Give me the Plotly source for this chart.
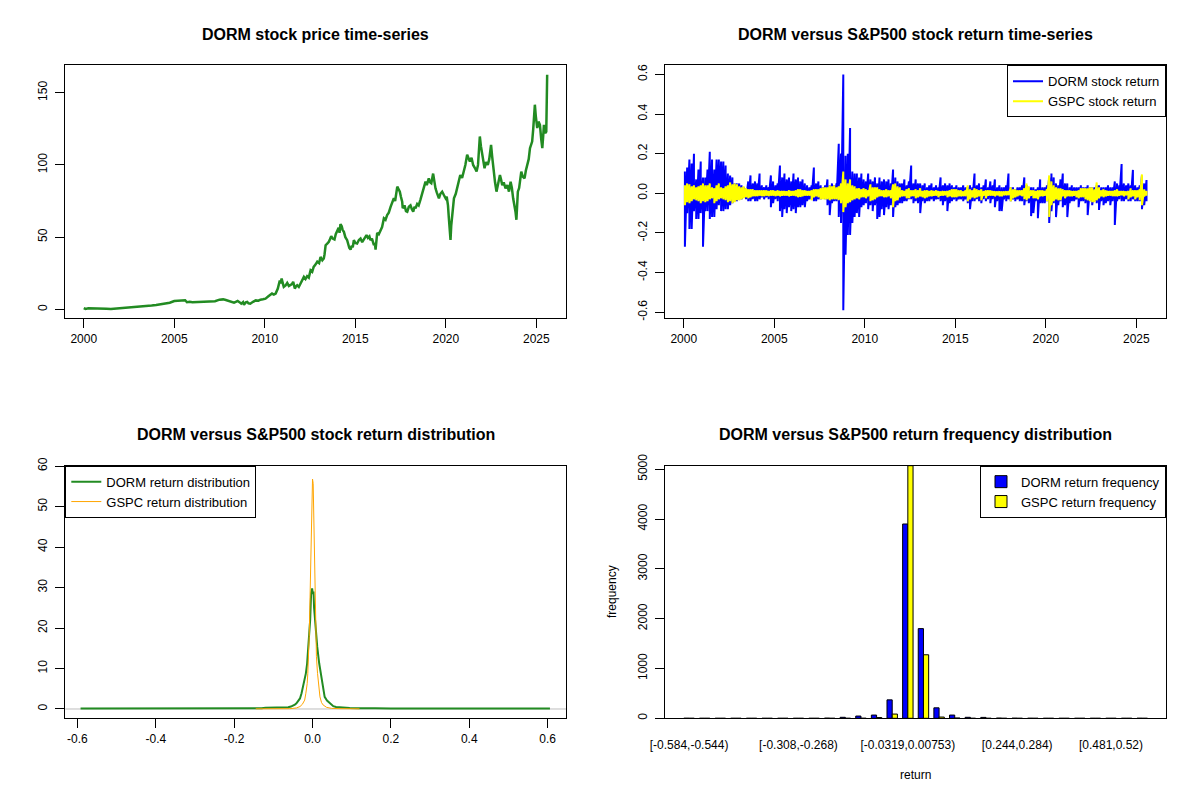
import plotly.graph_objects as go

# ---- DORM closing price (decimal year, USD) ----
PRICE_T = [
    2000.00, 2000.10, 2000.25, 2000.50, 2000.75, 2001.00, 2001.25, 2001.50, 2001.75,
    2002.00, 2002.25, 2002.50, 2002.75, 2003.00, 2003.25, 2003.50, 2003.75,
    2004.00, 2004.25, 2004.50, 2004.75, 2005.00, 2005.25, 2005.50, 2005.60, 2005.70, 2005.85,
    2006.00, 2006.25, 2006.50, 2006.75, 2007.00, 2007.25, 2007.50, 2007.70, 2007.85,
    2008.00, 2008.20, 2008.30, 2008.40, 2008.50, 2008.60, 2008.70, 2008.80, 2008.85, 2008.95,
    2009.03, 2009.10, 2009.20, 2009.35, 2009.50, 2009.65, 2009.76, 2009.90,
    2010.04, 2010.20, 2010.30, 2010.40, 2010.50, 2010.60, 2010.72, 2010.80, 2010.83, 2010.88, 2010.93,
    2011.00, 2011.05, 2011.15, 2011.24, 2011.33, 2011.42, 2011.50, 2011.57, 2011.62, 2011.66,
    2011.72, 2011.79, 2011.88, 2011.97,
    2012.05, 2012.16, 2012.25, 2012.34, 2012.43, 2012.53, 2012.62, 2012.70, 2012.80, 2012.90,
    2013.00, 2013.08, 2013.18, 2013.26, 2013.30, 2013.36, 2013.45, 2013.54, 2013.60, 2013.67,
    2013.75, 2013.85, 2013.92,
    2014.00, 2014.08, 2014.13, 2014.18, 2014.25, 2014.30, 2014.37, 2014.45, 2014.55, 2014.62,
    2014.67, 2014.74, 2014.80, 2014.86, 2014.92,
    2015.00, 2015.10, 2015.20, 2015.29, 2015.38, 2015.47, 2015.55, 2015.62, 2015.70, 2015.78,
    2015.84, 2015.92,
    2016.03, 2016.08, 2016.12, 2016.17, 2016.21, 2016.30, 2016.40, 2016.48, 2016.58, 2016.67,
    2016.76, 2016.85, 2016.95,
    2017.05, 2017.13, 2017.20, 2017.32, 2017.40, 2017.46, 2017.52, 2017.59, 2017.62, 2017.72,
    2017.80, 2017.87, 2017.96,
    2018.05, 2018.12, 2018.20, 2018.27, 2018.33, 2018.42, 2018.50, 2018.60, 2018.70, 2018.80,
    2018.88, 2018.95,
    2019.06, 2019.13, 2019.20, 2019.30, 2019.36, 2019.43, 2019.50, 2019.56, 2019.62, 2019.70,
    2019.80, 2019.90, 2019.99,
    2020.05, 2020.12, 2020.17, 2020.21, 2020.26, 2020.30, 2020.35, 2020.40, 2020.45, 2020.55,
    2020.63, 2020.72, 2020.80, 2020.90, 2020.99,
    2021.08, 2021.18, 2021.25, 2021.33, 2021.42, 2021.51, 2021.60, 2021.70, 2021.78, 2021.84,
    2021.88, 2021.94,
    2022.01, 2022.08, 2022.14, 2022.22, 2022.32, 2022.40, 2022.46, 2022.50, 2022.56, 2022.62,
    2022.66, 2022.72, 2022.80, 2022.86, 2022.93, 2022.99,
    2023.05, 2023.12, 2023.20, 2023.30, 2023.40, 2023.49, 2023.58, 2023.65, 2023.72, 2023.80,
    2023.85, 2023.90, 2023.98,
    2024.05, 2024.17, 2024.25, 2024.35, 2024.42, 2024.50, 2024.58, 2024.65, 2024.72, 2024.77,
    2024.83, 2024.87, 2024.92, 2024.97,
    2025.05, 2025.12, 2025.20, 2025.27, 2025.33, 2025.38, 2025.42, 2025.50, 2025.55, 2025.60,
]
PRICE = [
    0.9, 0.3, 0.7, 0.5, 0.6, 0.5, 0.4, 0.3, 0.5,
    0.9, 1.2, 1.4, 1.6, 1.9, 2.1, 2.3, 2.6,
    3.0, 3.4, 3.9, 4.6, 5.8, 6.2, 6.5, 6.3, 4.9, 5.2,
    4.9, 5.0, 5.1, 5.0, 5.1, 5.6, 6.7, 6.9, 6.5,
    5.8, 5.0, 4.6, 5.2, 5.8, 5.0, 3.9, 5.0, 3.2, 4.9,
    5.1, 4.2, 3.9, 5.2, 6.2, 6.0, 6.7, 7.0,
    7.4, 9.0, 10.3, 10.9, 10.2, 10.9, 14.4, 17.5, 20.0, 18.0, 21.3,
    17.8, 15.5, 16.5, 18.3, 16.2, 16.7, 17.5, 19.0, 16.5, 14.4,
    15.8, 16.7, 15.5, 17.8,
    19.5, 22.5, 21.0, 23.0, 22.0, 27.0, 26.0, 29.4, 31.0, 33.0,
    32.0, 36.3, 34.0, 35.2, 38.0, 44.4, 45.5, 46.8, 48.5, 50.7,
    49.0, 48.4, 52.0,
    54.9, 56.5, 53.0, 59.0, 57.5, 55.0, 53.7, 50.0, 47.9, 44.0,
    42.5, 41.4, 44.0, 43.0, 47.9,
    46.0, 45.6, 48.0, 49.0, 46.5, 48.4, 50.0, 51.4, 49.5, 50.5,
    47.9, 49.0,
    44.4, 46.0, 41.4, 47.0, 53.0, 52.0, 54.9, 57.0, 63.0, 62.0,
    65.3, 67.0, 71.0,
    74.0, 76.9, 75.0, 85.0, 83.0, 81.5, 78.0, 74.5, 70.0, 72.0,
    68.0, 67.6, 71.0,
    72.0, 69.5, 67.6, 71.0, 70.0, 73.0, 72.0, 76.0, 80.3, 84.0,
    88.4, 86.0,
    90.7, 88.0, 87.3, 94.0, 89.0, 83.8, 81.0, 79.0, 76.9, 80.0,
    81.5, 79.0, 76.9,
    78.0, 72.0, 63.0, 55.0, 48.0, 58.0, 65.3, 72.0, 76.9, 80.0,
    83.8, 88.0, 93.0, 91.0, 95.4,
    100.0, 107.0, 104.0, 102.3, 105.0, 100.0, 98.0, 95.4, 100.0, 112.0,
    119.7, 113.0,
    107.0, 103.0, 97.7, 102.0, 100.0, 104.0, 110.0, 113.9, 106.0, 98.0,
    93.0, 88.0, 81.5, 86.0, 90.0, 93.0,
    90.0, 86.0, 88.0, 83.8, 86.0, 81.5, 88.4, 84.0, 76.9, 72.0,
    67.6, 62.0, 81.5,
    84.0, 95.4, 92.0, 90.7, 96.0, 100.0, 104.0, 111.6, 114.0, 116.2,
    125.0, 137.0, 141.7, 134.0,
    125.5, 130.0, 127.8, 118.0, 111.6, 120.0, 127.8, 122.0, 123.0, 162.5,
]

# ---- daily returns, summarised as high / low per eighth of a year ----
RET_START = 2000
SLOTS_PER_YEAR = 8
DORM_HI = [
    0.11, 0.13, 0.17, 0.15, 0.20, 0.07, 0.12, 0.16,   # 2000
    0.08, 0.08, 0.12, 0.21, 0.17, 0.12, 0.17, 0.17,   # 2001
    0.16, 0.16, 0.14, 0.10, 0.09, 0.08, 0.05, 0.05,   # 2002
    0.05, 0.04, 0.03, 0.02, 0.06, 0.09, 0.05, 0.06,   # 2003
    0.05, 0.10, 0.04, 0.03, 0.04, 0.03, 0.09, 0.06,   # 2004
    0.04, 0.05, 0.14, 0.08, 0.10, 0.07, 0.08, 0.06,   # 2005
    0.10, 0.07, 0.08, 0.06, 0.07, 0.05, 0.04, 0.03,   # 2006
    0.04, 0.13, 0.05, 0.06, 0.04, 0.03, 0.04, 0.07,   # 2007
    0.04, 0.05, 0.04, 0.05, 0.25, 0.20, 0.60, 0.19,   # 2008
    0.20, 0.33, 0.11, 0.10, 0.10, 0.08, 0.10, 0.07,   # 2009
    0.06, 0.10, 0.07, 0.06, 0.08, 0.05, 0.08, 0.06,   # 2010
    0.07, 0.06, 0.07, 0.05, 0.12, 0.08, 0.06, 0.05,   # 2011
    0.05, 0.07, 0.04, 0.06, 0.14, 0.05, 0.07, 0.05,   # 2012
    0.05, 0.04, 0.05, 0.03, 0.04, 0.05, 0.03, 0.04,   # 2013
    0.03, 0.08, 0.04, 0.05, 0.04, 0.05, 0.04, 0.03,   # 2014
    0.04, 0.03, 0.03, 0.04, 0.03, 0.03, 0.04, 0.03,   # 2015
    0.10, 0.04, 0.05, 0.03, 0.04, 0.07, 0.03, 0.06,   # 2016
    0.04, 0.07, 0.03, 0.04, 0.03, 0.03, 0.04, 0.10,   # 2017
    0.03, 0.03, 0.02, 0.03, 0.03, 0.04, 0.08, 0.04,   # 2018
    0.03, 0.03, 0.03, 0.02, 0.03, 0.07, 0.03, 0.03,   # 2019
    0.04, 0.08, 0.10, 0.08, 0.05, 0.04, 0.07, 0.10,   # 2020
    0.05, 0.05, 0.03, 0.04, 0.03, 0.03, 0.03, 0.04,   # 2021
    0.03, 0.03, 0.04, 0.03, 0.03, 0.03, 0.04, 0.04,   # 2022
    0.03, 0.03, 0.03, 0.04, 0.03, 0.03, 0.06, 0.05,   # 2023
    0.04, 0.148, 0.05, 0.04, 0.05, 0.04, 0.118, 0.04, # 2024
    0.03, 0.04, 0.09, 0.05, 0.067,                    # 2025
]
DORM_LO = [
    -0.27, -0.10, -0.18, -0.18, -0.09, -0.13, -0.13, -0.10,
    -0.27, -0.09, -0.09, -0.13, -0.12, -0.12, -0.08, -0.06,
    -0.09, -0.09, -0.08, -0.08, -0.06, -0.05, -0.04, -0.04,
    -0.03, -0.03, -0.02, -0.03, -0.04, -0.04, -0.03, -0.04,
    -0.04, -0.03, -0.02, -0.03, -0.02, -0.03, -0.07, -0.05,
    -0.03, -0.04, -0.09, -0.12, -0.08, -0.10, -0.07, -0.09,
    -0.08, -0.10, -0.07, -0.07, -0.06, -0.07, -0.04, -0.03,
    -0.03, -0.04, -0.04, -0.03, -0.03, -0.02, -0.03, -0.06,
    -0.11, -0.05, -0.04, -0.04, -0.12, -0.15, -0.59, -0.31,
    -0.21, -0.21, -0.15, -0.12, -0.10, -0.12, -0.07, -0.06,
    -0.05, -0.08, -0.06, -0.09, -0.06, -0.13, -0.12, -0.08,
    -0.11, -0.07, -0.08, -0.06, -0.12, -0.07, -0.06, -0.05,
    -0.05, -0.04, -0.04, -0.03, -0.03, -0.05, -0.04, -0.05,
    -0.10, -0.04, -0.05, -0.04, -0.04, -0.03, -0.04, -0.03,
    -0.03, -0.04, -0.06, -0.04, -0.09, -0.05, -0.04, -0.03,
    -0.04, -0.03, -0.03, -0.04, -0.03, -0.05, -0.08, -0.04,
    -0.04, -0.03, -0.04, -0.05, -0.03, -0.04, -0.03, -0.05,
    -0.03, -0.07, -0.04, -0.09, -0.09, -0.03, -0.04, -0.03,
    -0.04, -0.03, -0.04, -0.03, -0.04, -0.04, -0.06, -0.04,
    -0.05, -0.115, -0.10, -0.04, -0.126, -0.05, -0.05, -0.05,
    -0.04, -0.15, -0.09, -0.05, -0.12, -0.06, -0.04, -0.07,
    -0.06, -0.12, -0.05, -0.04, -0.04, -0.03, -0.07, -0.04,
    -0.04, -0.05, -0.11, -0.04, -0.06, -0.04, -0.05, -0.084,
    -0.04, -0.06, -0.05, -0.04, -0.06, -0.04, -0.16, -0.04,
    -0.03, -0.04, -0.04, -0.03, -0.04, -0.04, -0.03, -0.04,
    -0.04, -0.04, -0.08, -0.06, -0.04,
]
GSPC_HI = [
    0.04, 0.05, 0.045, 0.035, 0.04, 0.03, 0.035, 0.04,
    0.05, 0.04, 0.04, 0.05, 0.03, 0.025, 0.04, 0.05,
    0.03, 0.025, 0.035, 0.04, 0.055, 0.045, 0.05, 0.045,
    0.035, 0.03, 0.035, 0.025, 0.02, 0.02, 0.02, 0.015,
    0.015, 0.015, 0.015, 0.015, 0.015, 0.012, 0.015, 0.015,
    0.012, 0.015, 0.012, 0.012, 0.012, 0.01, 0.015, 0.012,
    0.012, 0.015, 0.02, 0.02, 0.015, 0.015, 0.012, 0.012,
    0.015, 0.02, 0.02, 0.02, 0.025, 0.03, 0.03, 0.03,
    0.04, 0.035, 0.04, 0.03, 0.035, 0.05, 0.11, 0.07,
    0.05, 0.07, 0.04, 0.035, 0.025, 0.025, 0.02, 0.025,
    0.02, 0.015, 0.045, 0.03, 0.03, 0.03, 0.02, 0.015,
    0.015, 0.02, 0.015, 0.015, 0.045, 0.05, 0.035, 0.03,
    0.015, 0.012, 0.02, 0.025, 0.015, 0.015, 0.02, 0.015,
    0.025, 0.012, 0.015, 0.015, 0.012, 0.015, 0.012, 0.015,
    0.012, 0.01, 0.012, 0.01, 0.012, 0.015, 0.02, 0.02,
    0.02, 0.015, 0.015, 0.01, 0.015, 0.04, 0.02, 0.015,
    0.025, 0.02, 0.015, 0.02, 0.012, 0.015, 0.015, 0.015,
    0.012, 0.01, 0.01, 0.01, 0.01, 0.01, 0.01, 0.01,
    0.03, 0.02, 0.02, 0.015, 0.015, 0.015, 0.025, 0.05,
    0.035, 0.015, 0.015, 0.012, 0.015, 0.015, 0.015, 0.012,
    0.02, 0.09, 0.06, 0.04, 0.03, 0.025, 0.025, 0.02,
    0.015, 0.015, 0.015, 0.012, 0.012, 0.012, 0.015, 0.025,
    0.025, 0.025, 0.025, 0.03, 0.03, 0.02, 0.055, 0.03,
    0.015, 0.02, 0.015, 0.012, 0.012, 0.012, 0.015, 0.02,
    0.012, 0.012, 0.012, 0.01, 0.012, 0.025, 0.015, 0.015,
    0.015, 0.02, 0.095, 0.02, 0.012,
]
GSPC_LO = [
    -0.06, -0.045, -0.05, -0.04, -0.03, -0.035, -0.04, -0.05,
    -0.04, -0.045, -0.04, -0.03, -0.025, -0.05, -0.04, -0.03,
    -0.025, -0.03, -0.035, -0.045, -0.04, -0.05, -0.045, -0.035,
    -0.035, -0.03, -0.025, -0.02, -0.025, -0.02, -0.015, -0.015,
    -0.015, -0.012, -0.015, -0.015, -0.012, -0.015, -0.012, -0.012,
    -0.015, -0.012, -0.015, -0.012, -0.012, -0.012, -0.015, -0.012,
    -0.012, -0.015, -0.02, -0.018, -0.015, -0.012, -0.012, -0.012,
    -0.035, -0.02, -0.015, -0.02, -0.03, -0.03, -0.03, -0.03,
    -0.035, -0.03, -0.03, -0.03, -0.035, -0.05, -0.095, -0.07,
    -0.05, -0.045, -0.035, -0.03, -0.025, -0.03, -0.02, -0.02,
    -0.025, -0.015, -0.04, -0.035, -0.03, -0.02, -0.015, -0.015,
    -0.02, -0.02, -0.015, -0.025, -0.07, -0.04, -0.035, -0.02,
    -0.015, -0.015, -0.025, -0.025, -0.015, -0.015, -0.025, -0.02,
    -0.015, -0.02, -0.025, -0.02, -0.015, -0.015, -0.012, -0.012,
    -0.02, -0.012, -0.012, -0.01, -0.02, -0.015, -0.02, -0.02,
    -0.02, -0.015, -0.015, -0.015, -0.015, -0.04, -0.03, -0.02,
    -0.025, -0.02, -0.015, -0.035, -0.012, -0.025, -0.012, -0.012,
    -0.012, -0.015, -0.01, -0.015, -0.015, -0.01, -0.01, -0.01,
    -0.04, -0.025, -0.02, -0.015, -0.01, -0.015, -0.03, -0.035,
    -0.025, -0.012, -0.025, -0.025, -0.03, -0.015, -0.015, -0.012,
    -0.04, -0.12, -0.06, -0.04, -0.03, -0.035, -0.035, -0.015,
    -0.025, -0.015, -0.015, -0.015, -0.012, -0.02, -0.025, -0.02,
    -0.02, -0.03, -0.035, -0.04, -0.045, -0.045, -0.035, -0.025,
    -0.015, -0.02, -0.015, -0.012, -0.012, -0.015, -0.015, -0.015,
    -0.012, -0.01, -0.015, -0.01, -0.03, -0.02, -0.015, -0.03,
    -0.02, -0.035, -0.06, -0.015, -0.012,
]

# ---- kernel density of the returns ----
DORM_DX = [-0.592, -0.45, -0.3, -0.2, -0.13, -0.12, -0.1, -0.083, -0.07, -0.062,
           -0.055, -0.049, -0.045, -0.041, -0.036, -0.032, -0.028, -0.024, -0.02, -0.017,
           -0.014, -0.011, -0.008, -0.006, -0.0035, -0.001, 0.001, 0.0026, 0.004, 0.006,
           0.0085, 0.012, 0.017, 0.02, 0.023, 0.027, 0.031, 0.037, 0.044, 0.053,
           0.06, 0.07, 0.08, 0.095, 0.12, 0.14, 0.16, 0.2, 0.3, 0.45, 0.606]
DORM_DY = [0.1, 0.1, 0.1, 0.12, 0.2, 0.3, 0.3, 0.3, 0.35, 0.45,
           0.6, 0.8, 1.1, 1.4, 2.0, 2.6, 3.9, 5.5, 7.2, 8.8,
           11.0, 15.4, 17.9, 22.0, 28.6, 29.8, 28.4, 29.0, 25.0, 22.0,
           19.5, 15.4, 11.3, 9.6, 7.2, 4.7, 3.0, 2.1, 1.4, 0.7,
           0.5, 0.4, 0.35, 0.25, 0.2, 0.25, 0.2, 0.12, 0.1, 0.1, 0.1]
GSPC_DX = [-0.145, -0.1, -0.07, -0.058, -0.041, -0.032, -0.026, -0.02, -0.017, -0.0136,
           -0.012, -0.01, -0.0085, -0.007, -0.005, -0.0034, -0.0017, 0.0, 0.0017, 0.0034,
           0.005, 0.0068, 0.0085, 0.01, 0.0128, 0.0153, 0.019, 0.023, 0.027, 0.036,
           0.049, 0.07, 0.09, 0.12]
GSPC_DY = [0.05, 0.05, 0.08, 0.08, 0.25, 0.6, 1.15, 2.2, 3.9, 6.3,
           8.8, 12.9, 17.9, 24.4, 36.0, 46.7, 54.0, 56.8, 55.7, 47.5,
           36.8, 26.0, 19.5, 12.9, 8.8, 5.5, 3.0, 1.6, 1.0, 0.4,
           0.15, 0.08, 0.05, 0.05]

# ---- return frequency, 30 equal bins ----
BREAKS = ["-0.584", "-0.544", "-0.505", "-0.466", "-0.426", "-0.387", "-0.347", "-0.308",
          "-0.268", "-0.229", "-0.19", "-0.15", "-0.111", "-0.0713", "-0.0319", "0.00753",
          "0.047", "0.0864", "0.126", "0.165", "0.205", "0.244", "0.284", "0.323",
          "0.362", "0.402", "0.441", "0.481", "0.52", "0.56", "0.599"]
DORM_FREQ = [1, 0, 0, 0, 0, 0, 0, 0, 0, 3, 20, 45, 65, 370, 3900,
             1800, 210, 65, 20, 18, 4, 2, 1, 0, 0, 0, 0, 0, 0, 1]
GSPC_FREQ = [0, 0, 0, 0, 0, 0, 0, 0, 0, 0, 0, 1, 15, 85, 5070,
             1275, 25, 6, 0, 0, 0, 0, 0, 0, 0, 0, 0, 0, 0, 0]
SHOWN_BINS = [0, 7, 14, 21, 27]

FONT = "Liberation Sans, Arial, sans-serif"
GREEN = "#228B22"

# the page body adds an 8px margin, so the figure is drawn 8px in from the corner
OFF = 8
W, H = 1200 - OFF, 800 - OFF


def px_x(s):
    return (s - OFF) / W


def px_y(s):
    return 1 - (s - OFF) / H


def zigzag(hi, lo):
    xs, ys = [], []
    for i, (h, l) in enumerate(zip(hi, lo)):
        t = RET_START + (i + 0.5) / SLOTS_PER_YEAR
        xs += [t, t]
        ys += [h, l]
    return xs, ys


bin_labels = ["[%s,%s)" % (BREAKS[i], BREAKS[i + 1]) for i in range(len(BREAKS) - 1)]
bin_labels[-1] = "[%s,%s]" % (BREAKS[-2], BREAKS[-1])

fig = go.Figure()

fig.add_trace(go.Scatter(x=PRICE_T, y=PRICE, mode="lines", line=dict(color=GREEN, width=2.5),
                         showlegend=False, xaxis="x", yaxis="y"))

dx, dy = zigzag(DORM_HI, DORM_LO)
gx, gy = zigzag(GSPC_HI, GSPC_LO)
fig.add_trace(go.Scatter(x=dx, y=dy, mode="lines", line=dict(color="blue", width=2),
                         name="DORM stock return", legend="legend", xaxis="x2", yaxis="y2"))
fig.add_trace(go.Scatter(x=gx, y=gy, mode="lines", line=dict(color="yellow", width=2),
                         name="GSPC stock return", legend="legend", xaxis="x2", yaxis="y2"))

fig.add_trace(go.Scatter(x=DORM_DX, y=DORM_DY, mode="lines", line=dict(color=GREEN, width=2),
                         name="DORM return distribution", legend="legend2", xaxis="x3", yaxis="y3"))
fig.add_trace(go.Scatter(x=GSPC_DX, y=GSPC_DY, mode="lines", line=dict(color="orange", width=1),
                         name="GSPC return distribution", legend="legend2", xaxis="x3", yaxis="y3"))

fig.add_trace(go.Bar(x=bin_labels, y=DORM_FREQ, marker=dict(color="blue", line=dict(color="black", width=1)),
                     name="DORM return frequency", legend="legend3", xaxis="x4", yaxis="y4"))
fig.add_trace(go.Bar(x=bin_labels, y=GSPC_FREQ, marker=dict(color="yellow", line=dict(color="black", width=1)),
                     name="GSPC return frequency", legend="legend3", xaxis="x4", yaxis="y4"))

# zero line of the density plot
fig.add_shape(type="line", xref="x3 domain", yref="y3", x0=0, x1=1, y0=0, y1=0,
              line=dict(color="#BEBEBE", width=1), layer="below")

XL = [px_x(65.3), px_x(566)]
XR = [px_x(665.3), px_x(1166)]
YT = [px_y(318.3), px_y(65.3)]
YB = [px_y(718.3), px_y(465.7)]

tickfont = dict(family=FONT, size=12, color="black")
legfont = dict(family=FONT, size=13, color="black")
base = dict(showline=True, linecolor="black", linewidth=1, mirror=True, ticks="outside",
            ticklen=9, tickcolor="black", tickwidth=1, showgrid=False, zeroline=False,
            tickfont=tickfont, automargin=False)
yrot = dict(tickangle=-90, ticklabelstandoff=4)

years = [2000, 2005, 2010, 2015, 2020, 2025]
ret_ticks = [-0.6, -0.4, -0.2, 0.0, 0.2, 0.4, 0.6]
ret_text = ["%.1f" % v for v in ret_ticks]

fig.update_layout(
    width=W, height=H, margin=dict(l=0, r=0, t=0, b=0, autoexpand=False),
    paper_bgcolor="white", plot_bgcolor="white",
    font=dict(family=FONT, size=12, color="black"),
    barmode="group", bargap=1 / 3, bargroupgap=0,
    xaxis=dict(base, domain=XL, anchor="y", range=[1998.98, 2026.64], tickvals=years),
    yaxis=dict(base, **yrot, domain=YT, anchor="x", range=[-6.2, 169.0], tickvals=[0, 50, 100, 150]),
    xaxis2=dict(base, domain=XR, anchor="y2", range=[1998.98, 2026.64], tickvals=years),
    yaxis2=dict(base, **yrot, domain=YT, anchor="x2", range=[-0.631, 0.646],
                tickvals=ret_ticks, ticktext=ret_text),
    xaxis3=dict(base, domain=XL, anchor="y3", range=[-0.631, 0.647],
                tickvals=ret_ticks, ticktext=ret_text),
    yaxis3=dict(base, **yrot, domain=YB, anchor="x3", range=[-2.3, 60.1],
                tickvals=[0, 10, 20, 30, 40, 50, 60]),
    xaxis4=dict(base, domain=XR, anchor="y4", type="category", range=[-1.52, 30.52], ticks="",
                tickvals=[bin_labels[i] for i in SHOWN_BINS],
                ticktext=[bin_labels[i] for i in SHOWN_BINS], ticklabelstandoff=15, tickangle=0),
    yaxis4=dict(base, **yrot, domain=YB, anchor="x4", range=[0, 5070],
                tickvals=[0, 1000, 2000, 3000, 4000, 5000]),
    legend=dict(x=XR[1], y=YT[1], xanchor="right", yanchor="top", bgcolor="white",
                bordercolor="black", borderwidth=1, font=legfont, itemwidth=30),
    legend2=dict(x=XL[0], y=YB[1], xanchor="left", yanchor="top", bgcolor="white",
                 bordercolor="black", borderwidth=1, font=legfont, itemwidth=30),
    legend3=dict(x=XR[1], y=YB[1], xanchor="right", yanchor="top", bgcolor="white",
                 bordercolor="black", borderwidth=1, font=legfont, itemwidth=30),
)

titles = [
    ("DORM stock price time-series", sum(XL) / 2, px_y(34)),
    ("DORM versus S&P500 stock return time-series", sum(XR) / 2, px_y(34)),
    ("DORM versus S&P500 stock return distribution", sum(XL) / 2, px_y(434)),
    ("DORM versus S&P500 return frequency distribution", sum(XR) / 2, px_y(434)),
]
for text, x, y in titles:
    fig.add_annotation(text="<b>%s</b>" % text, x=x, y=y, xref="paper", yref="paper",
                       xanchor="center", yanchor="middle", showarrow=False,
                       font=dict(family=FONT, size=16, color="black"))

fig.add_annotation(text="return", x=sum(XR) / 2, y=px_y(775), xref="paper", yref="paper",
                   xanchor="center", yanchor="middle", showarrow=False, font=tickfont)
fig.add_annotation(text="frequency", x=px_x(612), y=sum(YB) / 2, xref="paper", yref="paper",
                   xanchor="center", yanchor="middle", showarrow=False, textangle=-90, font=tickfont)

fig.write_html("out.html")
